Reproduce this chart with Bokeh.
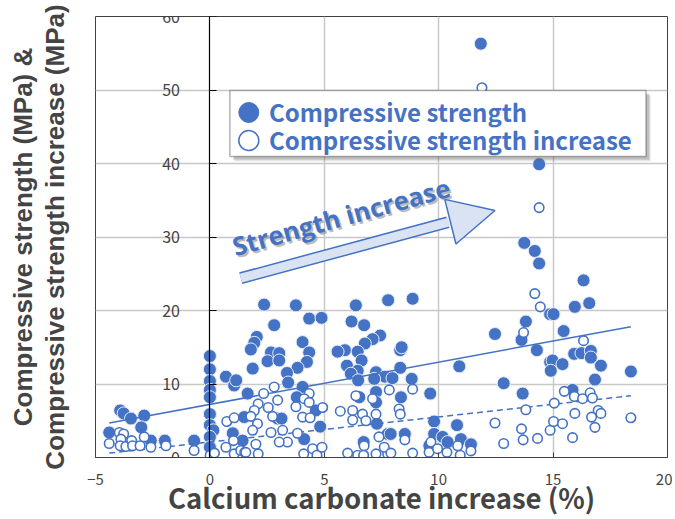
from bokeh.plotting import figure
from bokeh.models import (Range1d, LinearAxis, FixedTicker, BoxAnnotation, Label,
                          Arrow, NormalHead, ColumnDataSource)
from bokeh.embed import file_html
from bokeh.resources import INLINE

# ---------------- data ----------------
strength_x = [-4.40, -3.92, -3.77, -3.45, -2.87, -3.00, -2.58, -1.97, -0.69,
              0.0, 0.0, 0.0, 0.0, 0.0, 0.0, 0.0, 0.15, 0.0, 0.0,
              0.70, 1.06, 1.15, 1.00, 2.96,
              2.37, 3.76, 4.34, 4.88, 2.81, 2.05, 1.94, 1.79, 2.67, 3.03, 2.52, 3.03,
              4.05, 4.34, 4.24, 3.83, 3.37, 1.87, 3.42, 4.05, 1.65, 3.80, 4.63, 3.13,
              1.50, 4.82, 4.12, 1.43,
              6.38, 7.79, 6.19, 6.74, 7.44, 7.11, 6.77, 5.90, 5.58, 6.46, 6.63, 5.99,
              6.46, 6.16, 7.26, 7.65, 6.48, 7.18, 6.53, 7.26, 7.26, 7.30, 7.77, 6.72, 8.32,
              8.86, 8.38, 8.32, 7.98, 8.82, 9.63, 8.35, 10.90, 12.46, 13.81, 13.62, 14.29,
              14.87, 14.87, 12.84, 13.67, 9.80, 9.80, 10.80, 10.17, 10.97, 11.41, 9.59,
              10.39, 8.52, 7.90,
              13.74, 14.20, 14.39, 16.33, 15.95, 16.58, 15.02, 15.46, 15.92, 16.24, 16.65,
              16.65, 17.09, 14.98, 15.41, 14.90, 16.83, 18.40, 15.85,
              11.84, 14.39]
strength_y = [3.4, 6.4, 6.0, 5.3, 5.7, 4.1, 2.3, 2.3, 2.3,
              13.8, 12.0, 10.4, 9.2, 8.2, 5.9, 4.4, 3.7, 2.8, 1.4,
              11.0, 9.8, 10.5, 3.3, 5.3,
              20.8, 20.7, 18.9, 19.0, 18.0, 16.4, 15.6, 14.7, 14.3, 14.2, 13.1, 13.2,
              15.7, 14.3, 13.0, 12.2, 11.5, 12.1, 10.2, 9.6, 8.7, 8.2, 6.4, 5.3,
              5.5, 4.2, 2.5, 2.3,
              20.7, 21.4, 18.5, 18.0, 16.6, 16.1, 15.5, 14.6, 14.4, 14.4, 13.2, 12.5,
              11.8, 11.4, 11.6, 11.0, 10.5, 10.7, 8.2, 8.9, 7.5, 4.6, 3.2, 2.1, 14.6,
              21.6, 15.0, 12.2, 10.8, 10.7, 8.7, 8.2, 12.4, 16.8, 18.5, 16.0, 14.6,
              19.5, 13.0, 10.1, 8.7, 4.9, 3.2, 4.4, 2.8, 2.5, 1.8, 1.6,
              2.1, 3.2, 3.2,
              29.2, 28.1, 26.4, 24.1, 20.5, 21.0, 19.5, 17.2, 14.1, 14.2, 14.5,
              13.6, 12.5, 13.2, 12.7, 11.8, 10.6, 11.7, 9.2,
              56.3, 39.9]

increase_x = [-4.40, -3.96, -3.77, -3.89, -3.92, -3.67, -3.42, -3.38, -3.05, -2.87, -2.58,
              -1.92, -0.69, 0.01, 0.20, 0.74, 1.06, 0.70, 1.03, 1.06, 1.35, 1.52,
              2.81, 2.35, 2.11, 1.94, 2.96, 2.55, 2.74, 1.79, 2.08, 1.87, 2.67, 3.18, 3.39,
              3.03, 2.01, 1.57, 2.11, 4.34, 4.12, 4.34, 3.76, 4.93, 4.05, 4.38, 3.83, 4.10,
              4.49, 4.68, 4.90,
              5.70, 6.24, 6.38, 6.67, 6.24, 6.82, 7.26, 7.11, 7.84, 7.39, 6.74, 6.02, 6.46,
              6.72, 7.26, 7.77, 7.62, 8.27,
              8.32, 8.86, 7.91, 8.86, 8.52, 9.58, 9.66, 9.95, 10.36, 10.83, 10.94, 11.41,
              12.46, 12.84, 13.62, 13.69, 14.32, 13.81, 13.71, 14.20, 14.44, 14.87,
              14.39, 11.89,
              16.33, 15.49, 15.93, 16.29, 16.62, 16.72, 15.05, 15.95, 16.97, 17.09, 16.68,
              16.83, 18.40, 15.02, 15.41, 15.85]
increase_y = [1.9, 3.4, 3.2, 2.5, 1.6, 1.5, 2.3, 1.6, 1.6, 2.8, 1.4,
              1.6, 0.95, 0.27, 0.6, 4.9, 5.4, 1.4, 2.3, 0.5, 0.95, 0.7,
              9.6, 8.7, 7.3, 6.4, 7.8, 6.8, 5.6, 5.6, 4.6, 3.7, 3.4, 3.7, 2.1,
              2.1, 1.8, 0.7, 0.5, 8.7, 8.0, 7.5, 6.9, 6.8, 5.5, 5.4, 3.3, 0.5,
              1.2, 0.3, 1.4,
              6.3, 6.4, 8.4, 5.9, 5.1, 5.0, 5.9, 8.0, 9.2, 2.8, 1.6, 0.6, 0.3,
              0.3, 0.5, 0.5, 1.4, 6.6,
              5.9, 9.3, 0.6, 0.6, 2.4, 0.7, 2.1, 1.2, 0.7, 1.6, 0.3, 0.9,
              4.7, 1.9, 3.9, 2.4, 2.6, 6.5, 17.0, 22.3, 20.5, 3.7,
              34.0, 50.3,
              15.9, 9.0, 8.3, 8.0, 8.8, 8.1, 7.4, 6.0, 6.4, 6.0, 5.5,
              4.1, 5.4, 4.9, 4.6, 2.7]

# linear trend lines (end points)
trend_x = [-4.4, 18.4]
strength_trend = [4.7, 17.8]
increase_trend = [0.6, 8.4]

x_ticks = [-5, 0, 5, 10, 15, 20]
y_ticks = [0, 10, 20, 30, 40, 50, 60]

BLUE = "#4472C4"
LIGHT = "#DAE3F3"
FONT = "Noto Sans CJK JP"

p = figure(frame_width=572, frame_height=441, output_backend="svg", toolbar_location=None,
           x_range=Range1d(-5, 20), y_range=Range1d(0, 60),
           min_border_left=95, min_border_right=5, min_border_top=16, min_border_bottom=58)
p.background_fill_color = "white"
p.border_fill_color = "white"
p.outline_line_color = "#404040"
p.outline_line_width = 1

# grid
p.xgrid[0].ticker = FixedTicker(ticks=[5, 10, 15])
p.ygrid[0].ticker = FixedTicker(ticks=[10, 20, 30, 40, 50])
for g in (p.xgrid[0], p.ygrid[0]):
    g.grid_line_color = "#c8c8c8"
    g.grid_line_width = 1.5

# x axis
xa = p.xaxis[0]
xa.ticker = FixedTicker(ticks=x_ticks)
xa.axis_line_color = "#404040"
xa.major_tick_in = 5
xa.major_tick_out = 0
xa.minor_tick_line_color = None
xa.major_tick_line_color = "#404040"
xa.major_label_text_font = FONT
xa.major_label_text_font_size = "15px"
xa.major_label_standoff = 16
xa.axis_label = "Calcium carbonate increase (%)"
xa.axis_label_text_font = FONT
xa.axis_label_text_font_size = "27.5px"
xa.axis_label_text_font_style = "bold"
xa.axis_label_standoff = -11

# primary left axis: title only
ya = p.yaxis[0]
ya.ticker = FixedTicker(ticks=[])
ya.axis_line_color = None
ya.major_tick_line_color = None
ya.minor_tick_line_color = None
ya.axis_label = "Compressive strength (MPa) &\nCompressive strength increase (MPa)"
ya.axis_label_text_font = "Liberation Sans"
ya.axis_label_text_font_size = "26px"
ya.axis_label_text_font_style = "bold"
ya.axis_label_text_line_height = 1.05
ya.axis_label_standoff = 26

# y axis crossing at x = 0
yc = LinearAxis(fixed_location=0, ticker=FixedTicker(ticks=y_ticks))
yc.axis_line_color = "black"
yc.axis_line_width = 1.2
yc.major_tick_in = 7
yc.major_tick_out = 0
yc.major_tick_line_color = "black"
yc.minor_tick_line_color = None
yc.major_label_text_font = FONT
yc.major_label_text_font_size = "16px"
yc.major_label_standoff = 30
p.add_layout(yc, "left")

# data
s1 = ColumnDataSource(dict(x=strength_x, y=strength_y))
s2 = ColumnDataSource(dict(x=increase_x, y=increase_y))
p.scatter("x", "y", source=s1, size=13, fill_color=BLUE, line_color="#e8edf6", line_width=1)
p.line(trend_x, strength_trend, line_color=BLUE, line_width=1.5)
p.line(trend_x, increase_trend, line_color=BLUE, line_width=1.5, line_dash="6 4")
p.scatter("x", "y", source=s2, size=9.5, fill_color="white", line_color=BLUE, line_width=1.6)

# arrow annotation
tail = (1.35, 24.4)
base = (10.40, 32.0)
tip = (12.46, 33.6)
p.add_layout(Arrow(end=None, x_start=tail[0], y_start=tail[1], x_end=base[0], y_end=base[1],
                   line_color=BLUE, line_width=12, line_cap="butt"))
p.add_layout(Arrow(end=None, x_start=tail[0], y_start=tail[1], x_end=base[0] + 0.05, y_end=base[1] + 0.04,
                   line_color=LIGHT, line_width=9, line_cap="butt"))
p.add_layout(Arrow(end=NormalHead(size=46, fill_color=LIGHT, line_color=BLUE, line_width=1.5),
                   x_start=base[0] - 0.5, y_start=base[1] - 0.39, x_end=tip[0], y_end=tip[1],
                   line_alpha=0))

for dx, dy, col, alpha in [(2, -2, "#808080", 0.55), (0, 0, BLUE, 1.0)]:
    p.add_layout(Label(x=1.0, y=28.7, x_offset=dx, y_offset=dy, text="Strength increase",
                       angle=15.5, angle_units="deg", text_font="Open Sans",
                       text_font_style="bold", text_font_size="25.5px",
                       text_color=col, text_alpha=alpha, text_baseline="alphabetic"))

# legend (drawn by hand)
for k, a in [(5, 0.10), (4, 0.15), (3, 0.2)]:
    p.add_layout(BoxAnnotation(left=0.874 + k * 0.0437, right=19.06 + k * 0.0437,
                               top=49.93 - k * 0.136, bottom=40.95 - k * 0.136,
                               fill_color="#606060", fill_alpha=a, line_color=None))
p.add_layout(BoxAnnotation(left=0.874, right=19.06, top=49.93, bottom=40.95,
                           fill_color="white", fill_alpha=1, line_color="black", line_width=1.5))
leg_x = [1.70, 1.70]
leg_y = [46.94, 43.13]
p.scatter([leg_x[0]], [leg_y[0]], size=20, fill_color=BLUE, line_color=BLUE, level="overlay")
p.scatter([leg_x[1]], [leg_y[1]], size=20, fill_color="white", line_color=BLUE, line_width=1.5,
          level="overlay")
for yy, txt in [(47.07, "Compressive strength"), (43.27, "Compressive strength increase")]:
    p.add_layout(Label(x=2.58, y=yy, text=txt, text_font=FONT, text_font_style="bold",
                       text_font_size="24px", text_color=BLUE, text_baseline="middle"))

open("out.html", "w").write(file_html(p, INLINE))
